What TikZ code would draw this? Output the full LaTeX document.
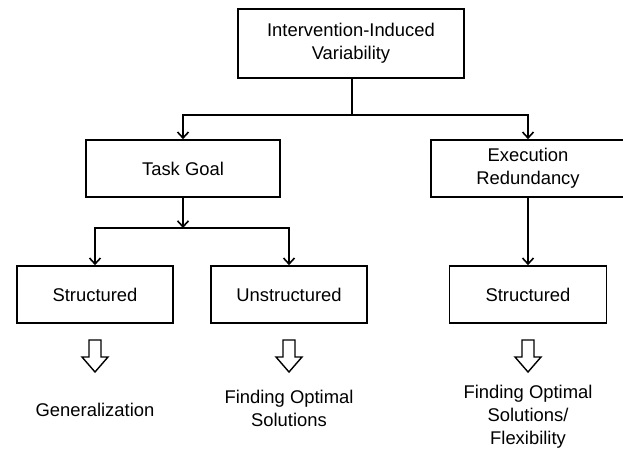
\documentclass[tikz,border=0pt]{standalone}
\usepackage{fontspec}
\setmainfont{Liberation Sans}
\usetikzlibrary{arrows.meta}

\newcommand{\boxfont}{\fontsize{18.4}{23}\selectfont}

\tikzset{
    box/.style={draw, line width=1.6pt, align=center, inner sep=0pt, font=\boxfont},
    lbl/.style={align=center, inner sep=0pt, font=\boxfont},
    arr/.style={line width=1.6pt, -{Straight Barb[length=6pt,width=11pt,line width=1.6pt]}},
    link/.style={line width=1.6pt},
    hollow/.style={draw, line width=1.4pt, line join=miter}
}

\begin{document}
\begin{tikzpicture}[x=1pt,y=-1pt]
    \useasboundingbox (0,0) rectangle (623,449);

    % boxes
    \node[box, minimum width=226pt, minimum height=69pt] (top) at (351,43.5) {Intervention-Induced\\Variability};
    \node[box, minimum width=194pt, minimum height=57pt] (tg) at (183,168.5) {Task Goal};
    \node[box, minimum width=194pt, minimum height=57pt] (er) at (528,168.5) {Execution\\Redundancy};

    \node[box, minimum width=156pt, minimum height=57pt] (sl) at (95,294.5) {Structured};
    \node[box, minimum width=156pt, minimum height=57pt] (su) at (289,294.5) {Unstructured};
    \node[box, minimum width=157pt, minimum height=57pt] (sr) at (528,294.5) {Structured};

    % junctions
    \coordinate (j1) at (352,115);
    \coordinate (j2) at (183,228);

    \draw[link] (top.south -| j1) -- (j1);
    \draw[arr] (j1) -| (tg.north);
    \draw[arr] (j1) -| (er.north);

    \draw[arr] (tg.south) -- (j2);
    \draw[arr] (j2) -| (sl.north);
    \draw[arr] (j2) -| (su.north);

    \draw[arr] (er.south) -- (sr.north);

    % hollow arrows
    \coordinate (h1) at (95,340);
    \coordinate (h2) at (289,340);
    \coordinate (h3) at (528,340);

    \draw[hollow] (h1) ++(-6,0) -- ++(12,0) -- ++(0,17) -- ++(7,0) -- ++(-13,15) -- ++(-13,-15) -- ++(7,0) -- cycle;
    \draw[hollow] (h2) ++(-6,0) -- ++(12,0) -- ++(0,17) -- ++(7,0) -- ++(-13,15) -- ++(-13,-15) -- ++(7,0) -- cycle;
    \draw[hollow] (h3) ++(-6,0) -- ++(12,0) -- ++(0,17) -- ++(7,0) -- ++(-13,15) -- ++(-13,-15) -- ++(7,0) -- cycle;

    % outcomes
    \node[lbl] (gen) at (95,410) {Generalization};
    \node[lbl] (fos) at (289,408.5) {Finding Optimal\\Solutions};
    \node[lbl] (fsf) at (528,417) {Finding Optimal\\Solutions/\\Flexibility};
\end{tikzpicture}
\end{document}
